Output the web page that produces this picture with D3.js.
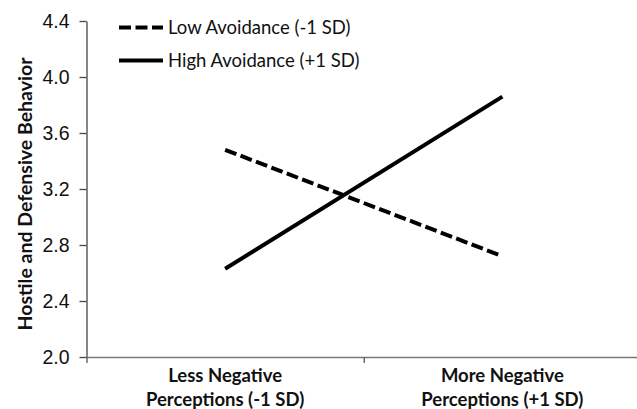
<!DOCTYPE html>
<html>
<head>
<meta charset="utf-8">
<script src="https://cdn.jsdelivr.net/npm/d3@7"></script>
<style>
  html, body { margin: 0; padding: 0; background: #fff; }
  svg { display: block; font-family: Lato, "Open Sans", sans-serif; }
</style>
</head>
<body>
<div id="chart"></div>
<script>
(() => {
  'use strict';

  // ── Data ──
  const categories = [['Less Negative', 'Perceptions (-1 SD)'], ['More Negative', 'Perceptions (+1 SD)']];
  const seriesNames = ['Low Avoidance (-1 SD)', 'High Avoidance (+1 SD)'];
  const lowAvoidance  = [3.48, 2.72];
  const highAvoidance = [2.63, 3.86];
  const yTicks = [2.0, 2.4, 2.8, 3.2, 3.6, 4.0, 4.4];

  const W = 637, H = 409;
  const margin = { top: 21, left: 86.5, bottom: 52 };
  const plotRight = 641;

  const svg = d3.select('#chart').append('svg')
    .attr('width', W).attr('height', H);

  // Scales
  const y = d3.scaleLinear().domain([2.0, 4.4]).range([H - margin.bottom, margin.top]);
  const xEdge = d3.scaleLinear().domain([0, categories.length]).range([margin.left, plotRight]);
  const x = i => xEdge(i + 0.5);

  // Y axis
  const yAxis = svg.append('g')
    .attr('transform', `translate(${margin.left},0)`)
    .call(d3.axisLeft(y).tickValues(yTicks).tickFormat(d3.format('.1f')).tickSize(7).tickSizeOuter(0).tickPadding(10));
  yAxis.select('.domain').attr('stroke', '#444').attr('stroke-width', 1.3);
  yAxis.selectAll('.tick line').attr('stroke', '#444').attr('stroke-width', 1.3);
  yAxis.selectAll('.tick text').attr('font-size', 19.5).attr('fill', '#111');

  // X axis (ticks at category boundaries)
  const xAxis = svg.append('g')
    .attr('transform', `translate(0,${y(2.0)})`)
    .call(d3.axisBottom(xEdge).tickValues(d3.range(categories.length + 1)).tickFormat('').tickSize(6).tickSizeOuter(0));
  xAxis.select('.domain').attr('stroke', '#777').attr('stroke-width', 1.6);
  xAxis.selectAll('.tick line').attr('stroke', '#555').attr('stroke-width', 1.3);

  // Category labels
  categories.forEach((lines, i) => {
    const t = svg.append('text')
      .attr('x', x(i)).attr('y', 382)
      .attr('text-anchor', 'middle')
      .attr('font-size', 18.5).attr('font-weight', 'bold').attr('fill', '#111');
    lines.forEach((s, j) => {
      t.append('tspan').attr('x', x(i)).attr('dy', j === 0 ? 0 : 24).text(s);
    });
  });

  // Y axis title
  svg.append('text')
    .attr('transform', `translate(32,194) rotate(-90)`)
    .attr('text-anchor', 'middle')
    .attr('font-size', 19.5).attr('font-weight', 'bold').attr('fill', '#111')
    .text('Hostile and Defensive Behavior');

  // Lines
  const line = d3.line().x((d, i) => x(i)).y(d => y(d));
  const series = [
    { name: seriesNames[0], values: lowAvoidance,  dash: '12 4.5' },
    { name: seriesNames[1], values: highAvoidance, dash: null }
  ];

  series.forEach(s => {
    svg.append('path')
      .datum(s.values)
      .attr('fill', 'none')
      .attr('stroke', '#000')
      .attr('stroke-width', 4)
      .attr('stroke-dasharray', s.dash)
      .attr('d', line);
  });

  // Legend
  const legend = svg.append('g').attr('transform', 'translate(119,27.5)');
  series.forEach((s, i) => {
    const g = legend.append('g').attr('transform', `translate(0,${i * 33})`);
    g.append('line')
      .attr('x1', 0).attr('x2', 44).attr('y1', 0).attr('y2', 0)
      .attr('stroke', '#000').attr('stroke-width', 4)
      .attr('stroke-dasharray', s.dash);
    g.append('text')
      .attr('x', 49).attr('y', 0).attr('dy', '0.35em')
      .attr('font-size', 18.5).attr('fill', '#111')
      .text(s.name);
  });
})();
</script>
</body>
</html>
